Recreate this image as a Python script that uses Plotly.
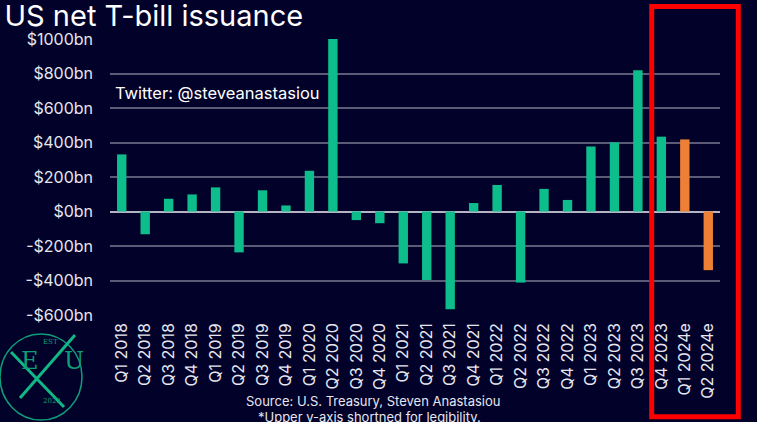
import plotly.graph_objects as go

categories = ["Q1 2018", "Q2 2018", "Q3 2018", "Q4 2018", "Q1 2019", "Q2 2019", "Q3 2019", "Q4 2019",
              "Q1 2020", "Q2 2020", "Q3 2020", "Q4 2020", "Q1 2021", "Q2 2021", "Q3 2021", "Q4 2021",
              "Q1 2022", "Q2 2022", "Q3 2022", "Q4 2022", "Q1 2023", "Q2 2023", "Q3 2023", "Q4 2023",
              "Q1 2024e", "Q2 2024e"]
values = [331, -132, 74, 99, 140, -237, 123, 35,
          236, 1000, -50, -68, -301, -397, -566, 49,
          154, -412, 131, 67, 377, 401, 819, 434,
          418, -340]
is_estimate = [c.endswith("e") for c in categories]

tick_vals = [-600, -400, -200, 0, 200, 400, 600, 800, 1000]
tick_text = ["-$600bn", "-$400bn", "-$200bn", "$0bn", "$200bn", "$400bn", "$600bn", "$800bn", "$1000bn"]

GREEN = "#0dbd8b"
ORANGE = "#ee8035"
BG = "#01012a"
FONT = "Inter"

colors = [ORANGE if e else GREEN for e in is_estimate]

fig = go.Figure()
fig.add_trace(go.Bar(
    x=categories, y=values,
    marker=dict(color=colors, line=dict(width=0)),
    width=0.4,
    hoverinfo="x+y",
))

fig.update_layout(
    width=757, height=422,
    paper_bgcolor=BG, plot_bgcolor=BG,
    margin=dict(l=110, r=37, t=39, b=107),
    showlegend=False,
    font=dict(family=FONT, color="#e6e6ee"),
    title=dict(text="US net T-bill issuance", x=0.006, xanchor="left", y=0.962, yanchor="middle",
               font=dict(family=FONT, size=29, color="white")),
    xaxis=dict(
        tickangle=-90, tickfont=dict(size=16, color="#e6e6ee", family=FONT),
        showgrid=False, zeroline=False, showline=False, ticks="",
        ticklabelstandoff=4,
    ),
    yaxis=dict(
        range=[-600, 1000], tickvals=tick_vals, ticktext=tick_text,
        tickfont=dict(size=16, color="#e6e6ee", family=FONT),
        showgrid=True, gridcolor="#5b5b78", gridwidth=2,
        zeroline=True, zerolinecolor="#b4b4c2", zerolinewidth=2,
        showline=False, ticks="", ticklabelstandoff=16,
    ),
)

annotations = [
    dict(text="Twitter: @steveanastasiou", xref="paper", yref="paper", x=0.005, y=0.806,
         xanchor="left", yanchor="middle", showarrow=False,
         font=dict(family=FONT, size=16.5, color="white")),
    dict(text="Source: U.S. Treasury, Steven Anastasiou", xref="paper", yref="paper", x=0.431, y=-0.31,
         xanchor="center", yanchor="middle", showarrow=False,
         font=dict(family=FONT, size=13, color="#e6e6ee")),
    dict(text="*Upper y-axis shortned for legibility.", xref="paper", yref="paper", x=0.425, y=-0.37,
         xanchor="center", yanchor="middle", showarrow=False,
         font=dict(family=FONT, size=13, color="#e6e6ee")),
    # logo text
    dict(text="EST", xref="paper", yref="paper", x=-0.113, y=-0.12, showarrow=False,
         font=dict(family="DejaVu Serif", size=7, color="#0f9d78")),
    dict(text="E", xref="paper", yref="paper", x=-0.15, y=-0.225, showarrow=False,
         font=dict(family="DejaVu Serif", size=24, color="#0f9d78")),
    dict(text="U", xref="paper", yref="paper", x=-0.078, y=-0.225, showarrow=False,
         font=dict(family="DejaVu Serif", size=24, color="#0f9d78")),
    dict(text="2022", xref="paper", yref="paper", x=-0.113, y=-0.335, showarrow=False,
         font=dict(family="DejaVu Serif", size=7, color="#0f9d78")),
]
fig.update_layout(annotations=annotations)

def px_x(px):
    return (px - 110) / 610.0

def px_y(py):
    return (315 - py) / 276.0

shapes = [
    # highlight box
    dict(type="rect", xref="paper", yref="paper",
         x0=px_x(651.7), x1=px_x(738.3), y0=px_y(416.8), y1=px_y(6.5),
         line=dict(color="#ff0000", width=5), fillcolor="rgba(0,0,0,0)", layer="above"),
    # logo circle
    dict(type="circle", xref="paper", yref="paper",
         x0=px_x(0), x1=px_x(82), y0=px_y(420), y1=px_y(334),
         line=dict(color="#0f9d78", width=1.5), layer="above"),
    dict(type="line", xref="paper", yref="paper",
         x0=px_x(11), x1=px_x(64), y0=px_y(352), y1=px_y(407),
         line=dict(color="#11b885", width=3), layer="above"),
    dict(type="line", xref="paper", yref="paper",
         x0=px_x(20), x1=px_x(75), y0=px_y(398), y1=px_y(335),
         line=dict(color="#11b885", width=3), layer="above"),
]
fig.update_layout(shapes=shapes)

fig.write_html("out.html")
